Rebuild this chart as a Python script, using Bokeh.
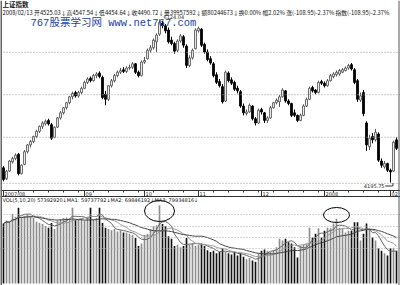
import pandas as pd
from bokeh.plotting import figure
from bokeh.models import Range1d, Span, Label
from bokeh.embed import file_html
from bokeh.resources import INLINE

# ---- data (Shanghai Composite, daily) ----
opens = [4370,4240,4330,4440,4480,4530,4300,4410,4560,4640,4680,4740,4800,4860,4890,4930,4880,4730,4850,4960,
         5020,5080,5140,5210,5260,5220,5260,5310,5380,5430,5400,5460,5490,5440,5240,5180,5340,5400,5460,5500,
         5530,5510,5550,5560,5600,5500,5460,5620,5660,5760,5790,5860,5950,6080,6050,6000,5880,5840,5760,5870,
         5920,5810,5580,5670,5780,5990,6010,5830,5740,5660,5600,5470,5390,5330,5160,5490,5410,5380,5310,5270,
         5100,5010,5030,5100,4950,4900,5060,5020,4930,4960,5080,5140,5150,5210,5280,5160,5130,5020,4990,4930,
         4990,5100,5180,5320,5290,5260,5390,5370,5340,5400,5450,5470,5480,5500,5520,5550,5590,5530,5400,5170,
         5260,4900,4620,4740,4700,4770,4450,4380,4420,4340,4330,4700]
highs = [4390,4345,4460,4500,4540,4545,4410,4580,4650,4700,4750,4820,4870,4920,4940,4950,4900,4860,4970,5040,
         5090,5150,5220,5270,5280,5280,5330,5400,5440,5450,5480,5500,5510,5460,5280,5350,5420,5480,5520,5550,
         5560,5570,5590,5620,5610,5520,5640,5680,5780,5820,5900,5960,6124.04,6110,6070,6030,5920,5860,5890,5950,
         5940,5830,5700,5780,6020,6040,6020,5850,5770,5690,5620,5500,5420,5360,5520,5510,5440,5400,5340,5290,
         5130,5060,5130,5110,4970,5070,5080,5030,4980,5100,5150,5190,5230,5310,5290,5180,5140,5060,5000,5010,
         5120,5200,5330,5340,5300,5400,5410,5390,5420,5480,5500,5520,5540,5550,5570,5600,5610,5550,5420,5260,
         5290,4920,4760,4780,4830,4790,4480,4450,4430,4360,4690,4730]
lows = [4210,4225,4320,4420,4460,4280,4290,4400,4540,4610,4660,4720,4780,4830,4870,4870,4700,4720,4840,4940,
        5000,5060,5120,5180,5200,5200,5240,5300,5360,5380,5390,5430,5430,5180,5110,5160,5320,5380,5440,5480,
        5490,5490,5530,5540,5480,5440,5450,5600,5650,5730,5770,5740,5930,6020,5960,5840,5820,5720,5740,5850,
        5790,5550,5560,5650,5770,5970,5800,5720,5630,5590,5440,5360,5320,5130,5150,5380,5350,5280,5250,5080,
        4990,4990,5020,4930,4870,4890,5000,4900,4900,4950,5070,5120,5090,5200,5140,5110,4970,4970,4910,4920,
        4980,5090,5170,5260,5240,5250,5350,5320,5330,5390,5430,5450,5460,5490,5510,5530,5520,5360,5150,5150,
        4980,4570,4580,4660,4680,4440,4370,4360,4320,4195.75,4320,4580]
closes = [4230,4330,4450,4480,4520,4300,4400,4560,4640,4680,4740,4800,4860,4900,4920,4890,4720,4850,4960,5020,
          5080,5140,5210,5250,5220,5260,5310,5380,5420,5400,5460,5480,5450,5200,5180,5340,5400,5460,5500,5520,
          5510,5550,5560,5600,5500,5460,5620,5640,5760,5790,5880,5940,6090,6050,5990,5860,5840,5750,5870,5930,
          5820,5580,5670,5760,6000,6020,5820,5740,5650,5610,5460,5380,5340,5150,5500,5400,5370,5300,5280,5100,
          5020,5030,5110,4950,4900,5050,5030,4930,4960,5080,5140,5170,5210,5290,5160,5130,4990,4990,4930,4990,
          5100,5180,5310,5280,5260,5380,5370,5340,5400,5460,5480,5500,5520,5530,5550,5580,5540,5380,5180,5220,
          5010,4640,4720,4700,4790,4460,4400,4420,4340,4320,4672,4600]
# daily volume, millions
volumes = [99,104,101,115,110,125,109,112,115,112,108,102,100,98,95,92,100,90,104,106,
           108,109,107,125,105,107,108,104,110,125,106,108,125,100,92,90,88,90,86,88,
           84,84,82,80,75,62,66,80,82,90,95,96,129,98,95,78,74,62,64,60,
           62,75,64,66,62,64,66,62,55,52,54,50,52,58,52,50,48,52,46,50,
           44,40,42,38,36,50,54,56,54,52,55,60,74,71,74,68,66,60,43,62,
           64,66,92,76,82,91,76,87,92,91,99,107,92,91,84,87,87,101,101,71,
           82,99,91,76,71,58,54,50,46,58,59,54]
month_labels = ["2007/08", "09", "10", "11", "12", "2008", "02"]
month_idx = [0, 27, 47, 65, 86, 107, 129]
price_grid = [5735, 5235, 4730, 4185]
peak_idx, low_idx = 52, 129
circled_idx = [52, 111]

n = len(closes)
idx = list(range(n))
up = [c >= o for o, c in zip(opens, closes)]
vs = pd.Series(volumes, dtype=float)
ma5 = vs.rolling(5, min_periods=1).mean()
ma10 = vs.rolling(10, min_periods=1).mean()
ma20 = vs.rolling(20, min_periods=1).mean()

p = figure(width=400, height=285, x_range=Range1d(-1, 132.33), y_range=Range1d(2977, 6349),
           output_backend="svg", toolbar_location=None, min_border=0)
p.axis.visible = False
p.grid.visible = False
p.outline_line_color = None
p.background_fill_color = "white"
p.border_fill_color = "white"
p.extra_y_ranges = {"px": Range1d(285, 0), "vol": Range1d(-3.3, 467)}
p.extra_x_ranges = {"pxx": Range1d(0, 400)}

# grid lines of the price panel
for g in price_grid:
    p.add_layout(Span(location=g, dimension="width", line_color="#9a9a9a", line_width=1, line_dash="1 2"))
# volume panel grid
for g in [214, 226, 237, 248]:
    p.add_layout(Span(location=g, dimension="width", y_range_name="px", line_color="#aaaaaa",
                      line_width=1, line_dash="1 2"))

# candles
upi = [i for i in idx if up[i]]
dni = [i for i in idx if not up[i]]
def sel(arr, ids):
    return [arr[i] for i in ids]
p.segment(x0=upi, x1=upi, y0=sel(highs, upi), y1=sel(lows, upi), line_color="#555555", line_width=1)
p.segment(x0=dni, x1=dni, y0=sel(highs, dni), y1=sel(lows, dni), line_color="#000000", line_width=1)
p.vbar(x=upi, width=0.62, top=sel(closes, upi), bottom=sel(opens, upi), fill_color="white",
       line_color="#555555", line_width=0.9)
p.vbar(x=dni, width=0.62, top=sel(opens, dni), bottom=sel(closes, dni), fill_color="black",
       line_color="black", line_width=0.9)

# volume bars
p.vbar(x=upi, width=0.55, top=sel(volumes, upi), bottom=0, fill_color="#8c8c8c", line_color=None,
       y_range_name="vol")
p.vbar(x=dni, width=0.55, top=sel(volumes, dni), bottom=0, fill_color="#111111", line_color=None,
       y_range_name="vol")
p.line(idx, list(ma5), line_color="#666666", line_width=1, y_range_name="vol")
p.line(idx, list(ma10), line_color="#999999", line_width=1, y_range_name="vol")
p.line(idx, list(ma20), line_color="#444444", line_width=1, y_range_name="vol")

# circled volume peaks
p.ellipse(x=[circled_idx[0]], y=[210.5], width=10, height=21, fill_color=None, line_color="black",
          line_width=1, y_range_name="px")
p.ellipse(x=[circled_idx[1]], y=[214.5], width=8.7, height=15, fill_color=None, line_color="black",
          line_width=1, y_range_name="px")

# frame lines
for yv in [190, 196]:
    p.add_layout(Span(location=yv, dimension="width", y_range_name="px", line_color="#333333", line_width=1))
p.add_layout(Span(location=0.5, dimension="height", x_range_name="pxx", line_color="#666666", line_width=2))
p.add_layout(Span(location=398.5, dimension="height", x_range_name="pxx", line_color="#555555", line_width=1))
# weekly ticks on date band
wk = list(range(month_idx[0], n + 1, 5))
p.segment(x0=wk, x1=wk, y0=[190] * len(wk), y1=[192] * len(wk), line_color="#333333", line_width=1,
          y_range_name="px")
p.segment(x0=month_idx, x1=month_idx, y0=[190] * len(month_idx), y1=[196] * len(month_idx),
          line_color="#333333", line_width=1, y_range_name="px")
for lab, mi in zip(month_labels, month_idx):
    p.add_layout(Label(x=mi, y=193.2, y_range_name="px", text=lab, text_font_size="5px",
                       text_font="DejaVu Sans", text_baseline="middle", x_offset=1, text_color="#222222"))

# annotations
p.add_layout(Label(x=peak_idx, y=6124.04, text="6124.04", text_font_size="5px", text_font="DejaVu Sans",
                   text_baseline="middle", x_offset=4, y_offset=3, text_color="#222222"))
p.line(x=[low_idx - 1.8, low_idx + 0.8, low_idx + 0.8], y=[185.5, 185.5, 182.5], line_color="#333333",
       line_width=1, y_range_name="px")
p.add_layout(Label(x=low_idx - 2.0, y=185.5, y_range_name="px", text="4195.75", text_font_size="5px",
                   text_font="DejaVu Sans", text_baseline="middle", text_align="right", text_color="#222222"))

p.add_layout(Label(x=2, y=3.5, x_range_name="pxx", y_range_name="px", text="上证指数",
                   text_font_size="6.5px", text_font="Noto Sans CJK SC", text_font_style="bold",
                   text_baseline="middle", text_color="#111111"))
p.add_layout(Label(x=2, y=11.5, x_range_name="pxx", y_range_name="px",
                   text="2008/02/13 开4525.03↓高4547.54↓低4454.64↓收4490.72↓量39957592↓额80244673↓换0.00% 幅2.02% 涨(-108.95)-2.37% 指数(-108.95)-2.37%",
                   text_font_size="5.8px", text_font="Noto Sans CJK SC", text_baseline="middle",
                   text_color="#111111"))
p.add_layout(Label(x=30, y=22.5, x_range_name="pxx", y_range_name="px", text="767股票学习网 www.net767.com",
                   text_font_size="10.5px", text_font="Liberation Mono, Noto Sans CJK SC", text_baseline="middle",
                   text_color="#1f3fa0"))
p.add_layout(Label(x=2, y=199.5, x_range_name="pxx", y_range_name="px",
                   text="VOL(5,10,20) 57392920↓MA1: 59737792↓MA2: 69846192↓MA3: 79934816↓",
                   text_font_size="5px", text_font="DejaVu Sans", text_baseline="middle", text_color="#111111"))

open("out.html", "w").write(file_html(p, INLINE))
